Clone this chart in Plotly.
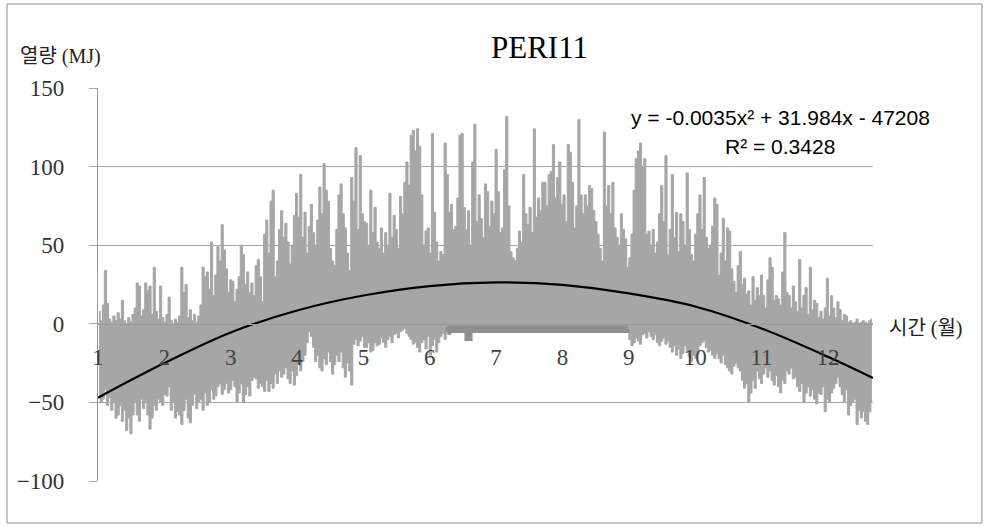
import numpy as np
import plotly.graph_objects as go

# Month labels along the time axis
months = ["1", "2", "3", "4", "5", "6", "7", "8", "9", "10", "11", "12"]

# Daily maximum heat (MJ), one value per day of the year
daily_high = [
    8, 2, 12, 34, 13, 3, 1, 5, 2, 7,
    3, 15, 2, 0, 4, 1, 6, 10, 26, 24,
    5, 9, 26, 21, 24, 6, 36, 8, 3, 24,
    4, 1, 6, 17, 2, 0, 3, 1, 5, 36,
    20, 25, 4, 9, 2, 6, 1, 5, 12, 36,
    30, 33, 22, 52, 18, 31, 49, 40, 63, 47,
    35, 20, 28, 27, 14, 22, 30, 50, 44, 25,
    33, 20, 26, 18, 37, 41, 30, 14, 57, 66,
    45, 78, 85, 30, 40, 60, 72, 55, 64, 52,
    38, 50, 69, 83, 68, 95, 55, 71, 45, 62,
    76, 58, 50, 66, 87, 70, 102, 85, 78, 48,
    40, 37, 60, 82, 89, 70, 61, 45, 34, 93,
    78, 112, 60, 107, 70, 65, 64, 50, 85, 58,
    74, 52, 48, 61, 45, 58, 50, 83, 55, 69,
    60, 48, 81, 70, 90, 103, 88, 120, 123, 110,
    124, 113, 82, 50, 59, 61, 45, 121, 71, 52,
    40, 46, 44, 115, 95, 71, 76, 60, 62, 80,
    120, 121, 74, 60, 72, 50, 103, 127, 65, 82,
    67, 55, 89, 84, 62, 78, 70, 111, 84, 58,
    61, 98, 132, 75, 46, 42, 40, 48, 59, 52,
    95, 70, 63, 74, 58, 124, 68, 80, 72, 90,
    90, 75, 95, 97, 114, 80, 93, 103, 76, 82,
    65, 114, 109, 90, 61, 75, 130, 82, 70, 82,
    75, 88, 86, 72, 65, 57, 48, 40, 122, 75,
    88, 70, 90, 61, 55, 50, 70, 60, 54, 36,
    42, 57, 85, 105, 110, 115, 100, 105, 57, 59,
    50, 60, 45, 52, 70, 88, 65, 107, 44, 60,
    95, 55, 71, 46, 70, 65, 50, 96, 60, 44,
    40, 57, 70, 82, 60, 93, 55, 48, 50, 62,
    80, 76, 31, 45, 67, 40, 61, 59, 35, 27,
    20, 37, 46, 25, 29, 19, 21, 12, 30, 15,
    23, 18, 31, 18, 10, 28, 42, 36, 15, 18,
    16, 12, 33, 58, 20, 18, 10, 24, 14, 8,
    41, 10, 18, 23, 6, 36, 9, 15, 13, 4,
    8, 3, 10, 29, 5, 18, 10, 4, 14, 9,
    2, 6, 5, 1, 2, 0, 1, 3, 0, 1,
    2, 1, 0, 2, 3,
]

# Daily minimum heat (MJ), one value per day of the year
daily_low = [
    -45, -50, -48, -42, -52, -47, -55, -50, -60, -58,
    -52, -62, -55, -68, -60, -70, -58, -50, -58, -62,
    -48, -54, -50, -58, -67, -60, -52, -55, -48, -50,
    -52, -45, -46, -40, -55, -50, -60, -56, -58, -64,
    -55, -48, -60, -63, -52, -45, -54, -50, -48, -55,
    -44, -52, -50, -42, -48, -46, -40, -38, -45, -42,
    -38, -44, -42, -36, -40, -50, -44, -38, -50, -45,
    -40, -46, -36, -34, -35, -41, -38, -40, -43, -36,
    -43, -38, -41, -32, -38, -30, -34, -32, -28, -35,
    -38, -30, -39, -33, -26, -30, -24, -20, -12, -5,
    -8, -15, -24, -20, -28, -30, -22, -26, -18, -24,
    -32, -26, -20, -24, -18, -28, -34, -25, -30, -39,
    -13, -10, -14, -11, -8, -15, -15, -12, -18, -17,
    -12, -14, -13, -9, -12, -15, -10, -8, -12, -7,
    -6, -9, -5, -4, -3, -6, -8, -10, -13, -12,
    -15, -18, -12, -10, -16, -8, -20, -14, -10, -18,
    -12, -8, -6, -10, -5, -4, -3, -4, -3, -4,
    -3, -4, -3, -4, -9, -4, -3, -4, -3, -3,
    -4, -3, -4, -3, -4, -3, -3, -4, -3, -4,
    -3, -4, -3, -3, -4, -3, -4, -3, -3, -4,
    -3, -4, -3, -4, -3, -3, -4, -3, -4, -3,
    -3, -4, -3, -3, -4, -3, -4, -3, -3, -4,
    -3, -4, -3, -4, -3, -3, -4, -3, -4, -3,
    -4, -3, -3, -4, -3, -4, -3, -3, -4, -3,
    -3, -4, -3, -4, -3, -3, -4, -3, -4, -3,
    -10, -14, -12, -9, -11, -13, -7, -6, -9, -5,
    -8, -10, -7, -12, -14, -11, -9, -13, -11, -15,
    -18, -14, -20, -16, -22, -19, -14, -18, -21, -24,
    -20, -22, -19, -14, -12, -11, -15, -18, -17, -20,
    -22, -19, -22, -25, -20, -26, -28, -30, -32, -27,
    -25, -28, -30, -36, -41, -38, -50, -44, -36, -41,
    -30, -35, -38, -32, -28, -34, -30, -36, -39, -33,
    -40, -44, -36, -38, -30, -32, -28, -35, -34, -40,
    -43, -38, -50, -44, -40, -46, -42, -48, -51, -44,
    -45, -40, -56, -48, -50, -44, -41, -38, -34, -40,
    -45, -50, -42, -58, -52, -50, -48, -64, -55, -60,
    -56, -62, -64, -56, -50,
]

# Polynomial trend values at each month mark and at year end
trend_values = [-47, -25, -5.5, 8.5, 18, 24, 26.3, 24.8, 19.3, 11, -3, -21, -34.5]

equation_text = "y = -0.0035x² + 31.984x - 47208"
r2_text = "R² = 0.3428"

SERIF = "Liberation Serif, Noto Sans CJK KR, serif"
SANS = "Liberation Sans, Arial, sans-serif"
GRAY = "#a6a6a6"

n_days = len(daily_high)
day_mid = np.arange(n_days) + 0.5

month_pos = [31.25 * k for k in range(len(months))]
trend_x = month_pos + [float(n_days)]

low_arr = np.array(daily_low, dtype=float)
summer = slice(164, 250)

fig = go.Figure()
# Daily range band: lower edge first, then upper edge filled down to it
fig.add_trace(go.Scatter(
    x=day_mid, y=daily_low, mode="lines",
    line=dict(color=GRAY, width=1, shape="hvh"),
    hoverinfo="skip", showlegend=False,
))
fig.add_trace(go.Scatter(
    x=day_mid, y=daily_high, mode="lines",
    line=dict(color=GRAY, width=1, shape="hvh"),
    fill="tonexty", fillcolor=GRAY,
    hoverinfo="skip", showlegend=False,
))
# Night-time floor in summer, where the hourly line overlaps densely
fig.add_trace(go.Scatter(
    x=day_mid[summer], y=low_arr[summer], mode="lines",
    line=dict(color="#8f8f8f", width=6, shape="hvh"),
    hoverinfo="skip", showlegend=False,
))
fig.add_trace(go.Scatter(
    x=trend_x, y=trend_values, mode="lines",
    line=dict(color="#000000", width=2.2, shape="spline", smoothing=1),
    hoverinfo="skip", showlegend=False,
))

fig.update_layout(
    width=988, height=527,
    margin=dict(l=98, r=115, t=88, b=46),
    paper_bgcolor="white", plot_bgcolor="white",
    showlegend=False,
    xaxis=dict(
        range=[0, n_days], anchor="free", position=0.4,
        showline=True, linecolor="#9a9a9a", linewidth=1.2,
        showgrid=False, zeroline=False, ticks="",
        tickmode="array", tickvals=month_pos, ticktext=months,
        tickfont=dict(family=SERIF, size=23, color="#404040"),
        ticklabelstandoff=12,
    ),
    yaxis=dict(
        range=[-100, 150], tickmode="array",
        tickvals=[-100, -50, 0, 50, 100, 150],
        showgrid=True, gridcolor=GRAY, gridwidth=1.3,
        showline=True, linecolor="#969696", linewidth=1.3,
        zeroline=False, ticks="outside", ticklen=8,
        tickcolor=GRAY, tickwidth=1.3,
        tickfont=dict(family=SERIF, size=23, color="#333333"),
        ticklabelstandoff=20,
    ),
    shapes=[dict(
        type="rect", xref="paper", yref="paper",
        x0=-0.1174, x1=1.1406, y0=-0.1069, y1=1.2137,
        line=dict(color="#8c8c8c", width=1), layer="below",
    )],
    annotations=[
        dict(text="PERI11", xref="paper", yref="paper", x=0.5703, y=1.1043,
             showarrow=False, xanchor="center", yanchor="middle",
             font=dict(family=SERIF, size=31, color="#000000")),
        dict(text="열량 (MJ)", xref="paper", yref="paper", x=-0.1032, y=1.0789,
             showarrow=False, xanchor="left", yanchor="middle",
             font=dict(family=SERIF, size=20, color="#222222")),
        dict(text="시간 (월)", xref="paper", yref="paper", x=1.018, y=0.389,
             showarrow=False, xanchor="left", yanchor="middle",
             font=dict(family=SERIF, size=20, color="#222222")),
        dict(text=equation_text, xref="paper", yref="paper", x=0.88, y=0.926,
             showarrow=False, xanchor="center", yanchor="middle",
             font=dict(family=SANS, size=21, color="#000000")),
        dict(text=r2_text, xref="paper", yref="paper", x=0.88, y=0.850,
             showarrow=False, xanchor="center", yanchor="middle",
             font=dict(family=SANS, size=21, color="#000000")),
    ],
)

fig.write_html("out.html")
